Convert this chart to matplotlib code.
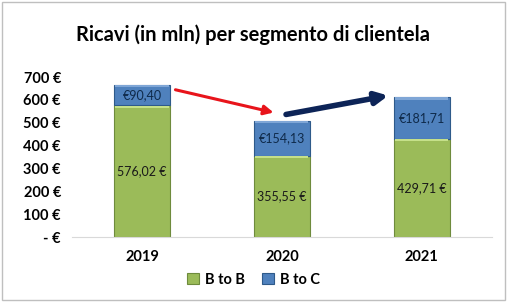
import matplotlib.pyplot as plt
import numpy as np

# Dati
anni = ["2019", "2020", "2021"]
b_to_b = [576.02, 355.55, 429.71]
b_to_c = [90.40, 154.13, 181.71]
etichette_btob = ["576,02 €", "355,55 €", "429,71 €"]
etichette_btoc = ["€90,40", "€154,13", "€181,71"]
y_ticks = [0, 100, 200, 300, 400, 500, 600, 700]

# Frecce (x in categorie, y in mln)
freccia_rossa = [(0.22, 647), (0.96, 542)]
freccia_blu = [(1.01, 534), (1.78, 621)]

plt.rcParams["font.family"] = ["Lato", "DejaVu Sans"]

fig = plt.figure(figsize=(5.07, 3.02), dpi=100)
ax = fig.add_axes([0.142, 0.215, 0.828, 0.530])

x = np.arange(len(anni))
verde = "#9BBB59"
blu = "#4F81BD"

ax.bar(x, b_to_b, width=0.4, color=verde, edgecolor="#6E8B3D", linewidth=0.8, label="B to B")
ax.bar(x, b_to_c, width=0.4, bottom=b_to_b, color=blu, edgecolor="#2E5A8A", linewidth=0.8, label="B to C")

# Effetto bevel semplice
ax.bar(x, [10] * 3, width=0.38, bottom=np.array(b_to_b) - 11, color="#C5E08A", linewidth=0)
ax.bar(x, [10] * 3, width=0.38, bottom=np.array(b_to_b) + np.array(b_to_c) - 11, color="#7FA6D6", linewidth=0)

for i in range(len(anni)):
    ax.text(x[i], b_to_b[i] / 2, etichette_btob[i], ha="center", va="center", fontsize=9, color="#1a1a1a")
    ax.text(x[i], b_to_b[i] + b_to_c[i] / 2, etichette_btoc[i], ha="center", va="center", fontsize=9, color="#0F2A4A")

ax.annotate("", xy=freccia_rossa[1], xytext=freccia_rossa[0],
            arrowprops=dict(arrowstyle="-|>", color="#E8141B", lw=2.2, mutation_scale=14))
ax.annotate("", xy=freccia_blu[1], xytext=freccia_blu[0],
            arrowprops=dict(arrowstyle="-|>", color="#0D2457", lw=4, mutation_scale=18))

ax.set_xlim(-0.5, 2.5)
ax.set_ylim(0, 700)
ax.set_xticks(x)
ax.set_xticklabels(anni, fontsize=10.5, fontweight="bold")
ax.set_yticks(y_ticks)
ax.set_yticklabels(["- €" if v == 0 else f"{v} €" for v in y_ticks], fontsize=10.5, fontweight="bold")
ax.tick_params(length=0, pad=8)
ax.tick_params(axis="x", pad=9)
for s in ["top", "right", "left"]:
    ax.spines[s].set_visible(False)
ax.spines["bottom"].set_color("#D9D9D9")

fig.suptitle("Ricavi (in mln) per segmento di clientela", x=0.5, y=0.92, fontsize=14.5, fontweight="bold")

h, l = ax.get_legend_handles_labels()
fig.legend(h[:2], l[:2], loc="center", bbox_to_anchor=(0.5, 0.073), ncol=2, frameon=False,
           prop={"weight": "bold", "size": 10.5}, handlelength=0.8, handleheight=0.8, columnspacing=1.2, handletextpad=0.4)

# Cornice
fig.patches.append(plt.Rectangle((0.003, 0.005), 0.994, 0.99, transform=fig.transFigure,
                                 fill=False, edgecolor="#BFBFBF", linewidth=1))

plt.savefig("out.png", dpi=100)
plt.close()
